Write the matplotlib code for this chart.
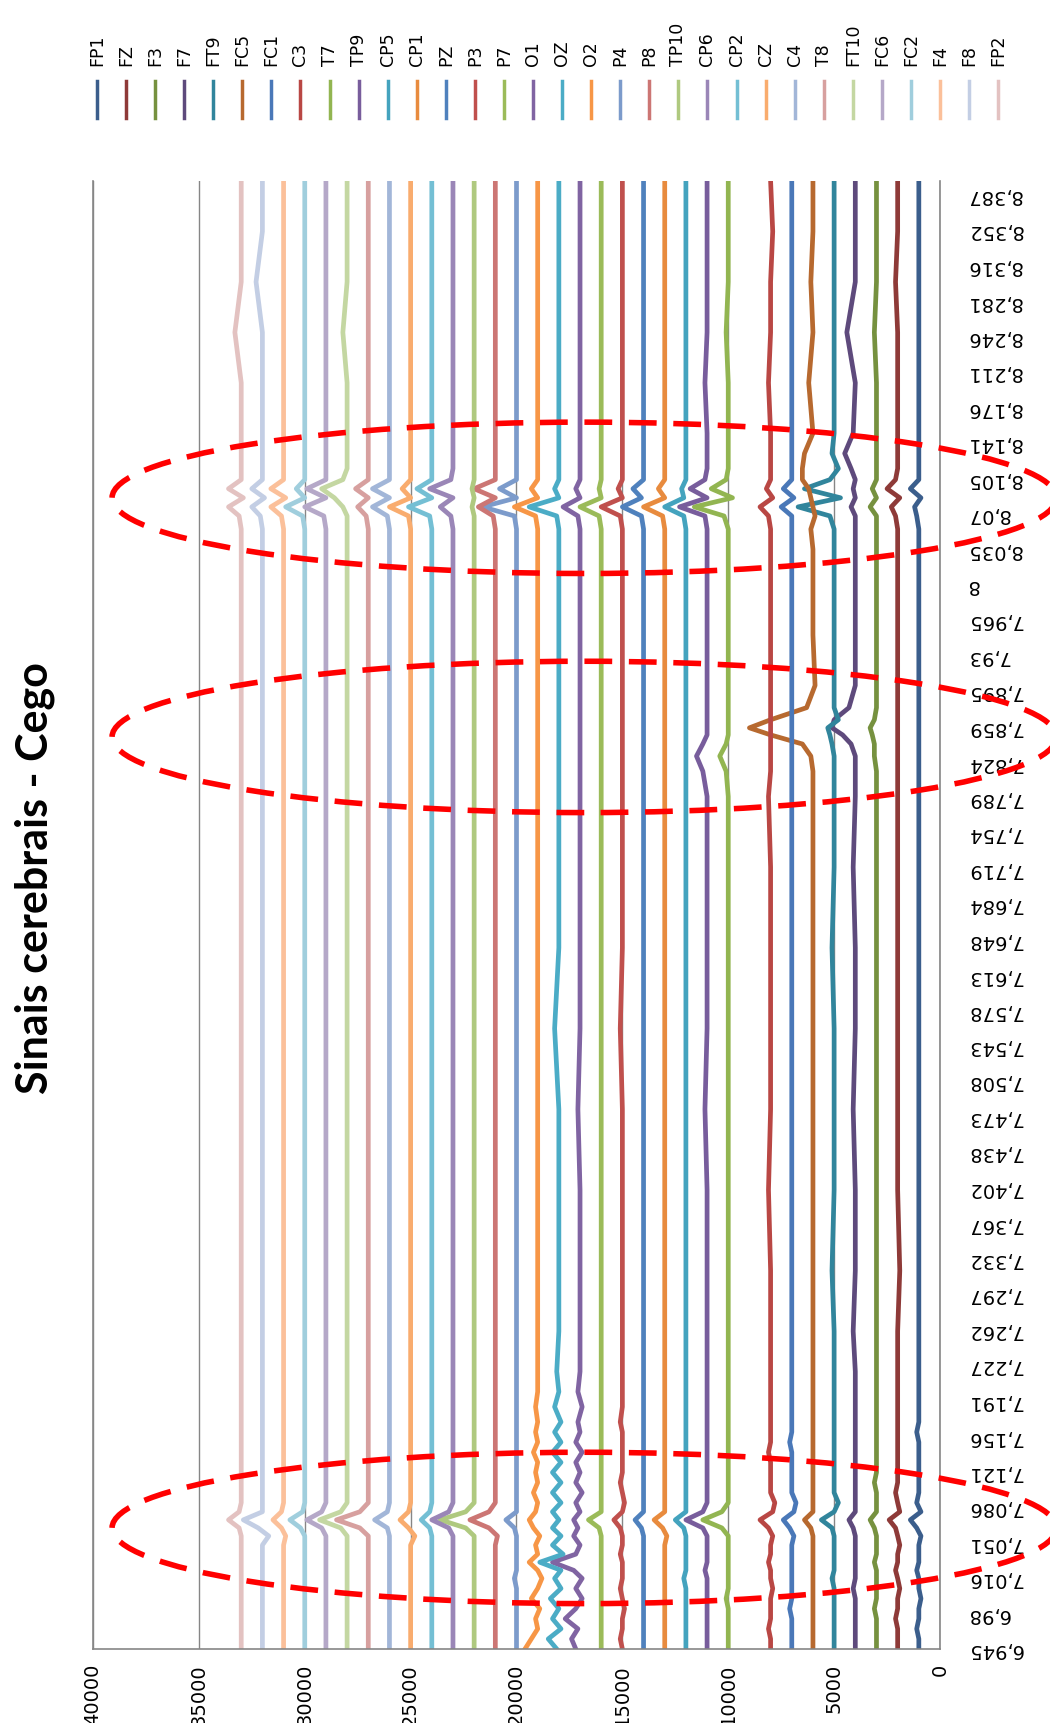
import matplotlib.pyplot as plt
from matplotlib.patches import Ellipse

# EEG channels, drawn as vertical traces (chart is rotated 90 degrees)
channels = ['FP1', 'FZ', 'F3', 'F7', 'FT9', 'FC5', 'FC1', 'C3', 'T7', 'TP9',
            'CP5', 'CP1', 'PZ', 'P3', 'P7', 'O1', 'OZ', 'O2', 'P4', 'P8',
            'TP10', 'CP6', 'CP2', 'CZ', 'C4', 'T8', 'FT10', 'FC6', 'FC2', 'F4',
            'F8', 'FP2']
offsets = [1000, 2000, 3000, 4000, 5000, 6000, 7000, 8000, 10000, 11000,
           12000, 13000, 14000, 15000, 16000, 17000, 18000, 19000, 20000, 21000,
           22000, 23000, 24000, 25000, 26000, 27000, 28000, 29000, 30000, 31000,
           32000, 33000]
colors = ['#3B5E8C', '#8E3A38', '#76913F', '#5E4A7C', '#31859C', '#B7692F',
          '#4A78B8', '#B94744', '#92B551', '#785D9C', '#44A3BE', '#E88B3E',
          '#4F81BD', '#C0504D', '#9BBB59', '#8064A2', '#4BACC6', '#F79646',
          '#7C9BCB', '#CC7674', '#AFC97F', '#9A86B7', '#74BFD4', '#F9AC6E',
          '#A2B6D8', '#D7A09F', '#C4D7A2', '#B5A8C8', '#A0CEDD', '#FBC09A',
          '#C3CEE4', '#E3C2C1']

# time (s) of the points
times = [6.945, 6.955, 6.965, 6.975, 6.985, 6.995, 7.005, 7.015, 7.023, 7.031,
         7.039, 7.048, 7.057, 7.065, 7.073, 7.081, 7.090, 7.100, 7.110, 7.120,
         7.130, 7.140, 7.150, 7.160, 7.170, 7.185, 7.200, 7.220, 7.260, 7.320,
         7.400, 7.480, 7.560, 7.640, 7.720, 7.790, 7.815, 7.830, 7.842, 7.851,
         7.858, 7.866, 7.878, 7.900, 7.950, 8.000, 8.035, 8.055, 8.068, 8.077,
         8.086, 8.095, 8.104, 8.115, 8.130, 8.150, 8.200, 8.250, 8.300, 8.350,
         8.400]

# deviation from each channel's offset, in hundreds
fp1 = [0, 0, 1, 0, 0, -1, 0, 0, 1, 0, 0, 0, -1, 1, 4, -1, 1, 0, 0, 0,
       0, 0, 0, 1, 0, 0, 0, 0, 0, 0, 0, 0, 0, 0, 0, 0, 0, 0, 0, 0,
       0, 0, 0, 0, 0, 0, 0, 0, 1, 2, -1, 4, 0, 0, 0, 0, 0, 0, 0, 0, 0]
fz = [0, 0, 0, 1, 0, 0, -1, 0, 1, 0, 0, -1, 0, 1, 4, -1, 0, 1, 0, 0,
      0, 0, 0, 0, 0, 0, 0, 0, 0, -1, 0, 0, 0, 0, 0, 0, 0, 0, 0, 0,
      0, 0, 0, 0, 0, 0, 0, 0, 1, 3, -1, 5, 1, 0, 0, 0, 0, 0, 1, 0, 0]
f3 = [0, 0, 0, 0, 1, 0, 0, 0, 0, 1, 0, 0, 0, 1, 3, 0, 0, 0, 1, 0,
      0, 0, 0, 0, 0, 0, 0, 0, 0, 0, 0, 0, 0, 0, 0, 0, 0, 1, 1, 2,
      3, 1, 0, 0, 0, 0, 0, 0, 0, 3, 0, 2, 0, 0, 0, 0, 0, 1, 0, 0, 0]
f7 = [0, 0, 0, 0, 0, 0, 1, 0, 0, 0, 0, 0, 0, 1, 3, 0, 0, 0, 0, 0,
      0, 0, 0, 0, 0, 0, 0, 0, 1, 0, 0, 1, 0, 0, 1, 0, 0, 0, 2, 6,
      11, 10, 3, 0, 0, 0, 0, 0, 0, 2, 0, 1, 0, 2, 5, 1, 0, 4, 0, 0, 0]
ft9 = [0, 0, 0, 0, 0, 0, 0, 1, 0, 0, 0, 0, 0, 1, 6, 0, -2, 0, 0, 0,
       0, 0, 0, 0, 0, 0, 0, 0, 0, 1, 0, 0, 0, 1, 0, 0, 0, 0, 1, 2,
       3, -2, 0, 0, 0, 0, 0, 0, 2, 17, -3, 14, 2, -2, 1, 0, 0, 0, 0, 0, 0]
fc5 = [0, 0, 0, 0, 0, 0, 0, 0, 0, 0, 0, 0, 0, 1, 4, 0, 0, 0, 0, 0,
       0, 0, 0, 0, 0, 0, 0, 0, 0, 0, 0, 0, 0, 0, 0, 0, 0, 1, 5, 20,
       30, 20, 3, -1, 0, 0, 0, 1, -1, 0, 1, 2, 5, 5, 4, 0, 2, 0, 1, 0, 0]
fc1 = [0, 0, 0, 0, 1, 0, 0, 0, 0, 0, 0, 0, -1, 1, 4, -1, -2, 0, 0, 0,
       0, 0, 1, 0, 0, 0, 0, 0, 0, 0, 0, 0, 0, 0, 0, 0, 0, 0, 0, 0,
       0, 0, 0, 0, 0, 0, 0, 0, 0, 5, -1, 4, 0, 0, 0, 0, 0, 0, 0, 0, 0]
c3 = [0, 0, 1, 0, 0, 0, -1, 0, 0, 1, 0, 0, -1, 1, 5, -1, -2, 0, 0, 0,
      0, 1, 0, 0, 0, 0, 0, 0, 0, 0, 1, 0, 0, 0, 0, 1, 0, 0, 0, 0,
      0, 0, 0, 0, 0, 0, 0, 0, 1, 5, -1, 2, 0, 0, 0, 0, 1, 0, 0, -1, 0]
t7 = [0, 0, 0, 0, 0, 1, 0, 0, 0, 0, 0, 0, 0, 3, 12, 3, 0, 0, 0, 0,
      0, 0, 0, 0, 0, 0, 0, 0, 0, 0, 0, 0, 0, 0, 0, 0, 1, 4, 1, 0,
      0, 0, 0, 0, 0, 0, 0, 0, 2, 16, -2, 8, 1, 0, 0, 0, 0, 1, 0, 0, 0]
tp9 = [0, 0, 0, 0, 0, 0, 0, 0, 1, 0, 0, 0, 0, 2, 10, 2, 0, 0, 0, 0,
       0, 0, 0, 0, 0, 0, 0, 0, 0, 0, 0, 1, 0, 0, 0, 0, 2, 5, 2, 0,
       0, 0, 0, 0, 0, 0, 0, 0, 1, 13, 0, 8, 1, 0, 0, 0, 1, 0, 0, 0, 0]
cp5 = [0, 0, 0, 0, 0, 0, 0, 1, 0, 0, 0, 0, 0, 1, 5, 0, 0, 0, 0, 0,
       0, 0, 0, 0, 0, 0, 0, 0, 0, 0, 0, 0, 0, 0, 0, 0, 0, 0, 0, 0,
       0, 0, 0, 0, 0, 0, 0, 0, 1, 10, 1, 2, 0, 0, 0, 0, 0, 0, 0, 0, 0]
cp1 = [0, 0, 0, 0, 0, 0, 0, 0, 0, 0, 0, 0, -1, 1, 5, 0, 0, 0, 0, 0,
       0, 0, 0, 0, 0, 0, 0, 0, 0, 0, 0, 0, 0, 0, 0, 0, 0, 0, 0, 0,
       0, 0, 0, 0, 0, 0, 0, 0, 1, 10, 0, 3, 0, 0, 0, 0, 0, 0, 0, 0, 0]
pz = [0, 0, 0, 0, 0, 0, 0, 0, 0, 0, 0, 0, 0, 1, 4, 0, 0, 0, 0, 0,
      0, 0, 0, 0, 0, 0, 0, 0, 0, 0, 0, 0, 0, 0, 0, 0, 0, 0, 0, 0,
      0, 0, 0, 0, 0, 0, 0, 0, 1, 10, 1, 5, 0, 0, 0, 0, 0, 0, 0, 0, 0]
p3 = [0, 1, 0, 0, -1, 0, 1, 0, 0, 0, 1, 0, 0, 1, 4, 0, -1, 0, 1, 0,
      0, 0, 0, 0, 1, 0, 0, 0, 0, 0, 0, 0, 1, 0, 0, 0, 0, 0, 0, 0,
      0, 0, 0, 0, 0, 0, 0, 0, 1, 10, 0, 2, 0, 0, 0, 0, 0, 0, 0, 0, 0]
p7 = [0, 0, 0, 0, 0, 0, 0, 0, 0, 0, 0, 0, 0, 1, 6, 0, 0, 0, 0, 0,
      0, 0, 0, 0, 0, 0, 0, 0, 0, 0, 0, 0, 0, 0, 0, 0, 0, 0, 0, 0,
      0, 0, 0, 0, 0, 0, 0, 0, 1, 10, 0, 1, 0, 0, 0, 0, 0, 0, 0, 0, 0]
o1 = [2, 4, 1, 7, 2, -1, 2, -1, 3, 13, 2, 0, 3, 1, 3, 0, 2, -1, 2, 0,
      2, -1, 2, 0, 1, -1, 1, 0, 0, 0, 0, 1, 0, 0, 0, 0, 0, 0, 0, 0,
      0, 0, 0, 0, 0, 0, 0, 0, 1, 8, 0, 2, 0, 0, 0, 0, 0, 0, 0, 0, 0]
oz = [1, 5, -1, 3, 0, 4, -1, 2, -1, 9, -2, 3, -1, 3, 0, 3, -1, 3, -1, 3,
      -1, 3, -1, 2, -1, 2, 0, 1, 0, 0, 0, 0, 2, 0, 0, 0, 0, 0, 0, 0,
      0, 0, 0, 0, 0, 0, 0, 0, 1, 14, 0, 2, 0, 0, 0, 0, 0, 0, 0, 0, 0]
o2 = [6, 3, 0, 1, -1, 3, 0, -2, 0, 4, 0, 1, -1, 2, 4, 1, 0, 2, 0, 1,
      0, 2, 0, 1, 0, 1, 0, 0, 0, 0, 0, 0, 0, 0, 0, 0, 0, 0, 0, 0,
      0, 0, 0, 0, 0, 0, 0, 0, 1, 11, 0, 3, 0, 0, 0, 0, 0, 0, 0, 0, 0]
p4 = [0, 0, 0, 0, 0, 0, 0, 1, 0, 0, 0, 0, 0, 1, 5, 0, 0, 0, 0, 0,
      0, 0, 0, 0, 0, 0, 0, 0, 0, 0, 0, 0, 0, 0, 0, 0, 0, 0, 0, 0,
      0, 0, 0, 0, 0, 0, 0, 0, 1, 16, 0, 8, 0, 0, 0, 0, 0, 0, 0, 0, 0]
p8 = [0, 0, 0, 0, 0, 0, 0, 0, 0, 0, 0, 0, -1, 3, 12, 3, 0, 0, 0, 0,
      0, 0, 0, 0, 0, 0, 0, 0, 0, 0, 0, 0, 0, 0, 0, 0, 0, 0, 0, 0,
      0, 0, 0, 0, 0, 0, 0, 0, 1, 8, 0, 10, 0, 0, 0, 0, 0, 0, 0, 0, 0]
tp10 = [0, 0, 0, 0, 0, 0, 0, 0, 0, 0, 0, 0, 0, 4, 16, 4, 0, 0, 0, 0,
        0, 0, 0, 0, 0, 0, 0, 0, 0, 0, 0, 0, 0, 0, 0, 0, 0, 0, 0, 0,
        0, 0, 0, 0, 0, 0, 0, 0, 0, 1, 0, 1, 0, 0, 0, 0, 0, 0, 0, 0, 0]
cp6 = [0, 0, 0, 0, 0, 0, 0, 0, 0, 0, 0, 0, 0, 2, 10, 2, 0, 0, 0, 0,
       0, 0, 0, 0, 0, 0, 0, 0, 0, 0, 0, 0, 0, 0, 0, 0, 0, 0, 0, 0,
       0, 0, 0, 0, 0, 0, 0, 0, 1, 6, 0, 11, 1, 0, 0, 0, 0, 0, 0, 0, 0]
cp2 = [0, 0, 0, 0, 0, 0, 0, 0, 0, 0, 0, 0, 0, 1, 5, 1, 0, 0, 0, 0,
       0, 0, 0, 0, 0, 0, 0, 0, 0, 0, 0, 0, 0, 0, 0, 0, 0, 0, 0, 0,
       0, 0, 0, 0, 0, 0, 0, 0, 1, 11, 0, 7, 0, 0, 0, 0, 0, 0, 0, 0, 0]
cz = [0, 0, 0, 0, 0, 0, 0, 0, 0, 0, 0, 0, -2, 1, 5, 1, 0, 0, 0, 0,
      0, 0, 0, 0, 0, 0, 0, 0, 0, 0, 0, 0, 0, 0, 0, 0, 0, 0, 0, 0,
      0, 0, 0, 0, 0, 0, 0, 0, 1, 10, 0, 4, 0, 0, 0, 0, 0, 0, 0, 0, 0]
c4 = [0, 0, 0, 0, 0, 0, 0, 0, 0, 0, 0, 0, 0, 1, 7, 1, 0, 0, 0, 0,
      0, 0, 0, 0, 0, 0, 0, 0, 0, 0, 0, 0, 0, 0, 0, 0, 0, 0, 0, 0,
      0, 0, 0, 0, 0, 0, 0, 0, 1, 8, 0, 8, 0, 0, 0, 0, 0, 0, 0, 0, 0]
t8 = [0, 0, 0, 0, 0, 0, 0, 0, 0, 0, 0, 0, 0, 4, 15, 4, 0, 0, 0, 0,
      0, 0, 0, 0, 0, 0, 0, 0, 0, 0, 0, 0, 0, 0, 0, 0, 0, 0, 0, 0,
      0, 0, 0, 0, 0, 0, 0, 0, 1, 5, 0, 6, 0, 0, 0, 0, 0, 0, 0, 0, 0]
ft10 = [0, 0, 0, 0, 0, 0, 0, 0, 0, 0, 0, 0, 0, 3, 13, 3, 0, 0, 0, 0,
        0, 0, 0, 0, 0, 0, 0, 0, 0, 0, 0, 0, 0, 0, 0, 0, 0, 0, 0, 0,
        0, 0, 0, 0, 0, 0, 0, 0, 0, 2, 6, 12, 2, 0, 0, 0, 0, 2, 0, 0, 0]
fc6 = [0, 0, 0, 0, 0, 0, 0, 0, 0, 0, 0, 0, 0, 2, 9, 2, 0, 0, 0, 0,
       0, 0, 0, 0, 0, 0, 0, 0, 0, 0, 0, 0, 0, 0, 0, 0, 0, 0, 0, 0,
       0, 0, 0, 0, 0, 0, 0, 0, 1, 10, 0, 9, 0, 0, 0, 0, 0, 0, 0, 0, 0]
fc2 = [0, 0, 0, 0, 0, 0, 0, 0, 0, 0, 0, 0, 0, 2, 7, 1, 0, 0, 0, 0,
       0, 0, 0, 0, 0, 0, 0, 0, 0, 0, 0, 0, 0, 0, 0, 0, 0, 0, 0, 0,
       0, 0, 0, 0, 0, 0, 0, 0, 1, 9, 0, 4, 0, 0, 0, 0, 0, 0, 0, 0, 0]
f4 = [0, 0, 0, 0, 0, 0, 0, 0, 0, 0, 0, 0, -1, 1, 5, 1, 0, 0, 0, 0,
      0, 0, 0, 0, 0, 0, 0, 0, 0, 0, 0, 0, 0, 0, 0, 0, 0, 0, 0, 0,
      0, 0, 0, 0, 0, 0, 0, 0, 1, 6, -1, 6, 0, 0, 0, 0, 0, 0, 0, 0, 0]
f8 = [0, 0, 0, 0, 0, 0, 0, 0, 0, 0, 0, 0, -3, 2, 9, 0, 0, 0, 0, 0,
      0, 0, 0, 0, 0, 0, 0, 0, 0, 0, 0, 0, 0, 0, 0, 0, 0, 0, 0, 0,
      0, 0, 0, 0, 0, 0, 0, 0, 1, 5, -1, 5, 0, 0, 0, 0, 0, 0, 3, 0, 0]
fp2 = [0, 0, 0, 0, 0, 0, 0, 0, 0, 0, 0, 0, 0, 1, 6, 1, 0, 0, 0, 0,
       0, 0, 0, 0, 0, 0, 0, 0, 0, 0, 0, 0, 0, 0, 0, 0, 0, 0, 0, 0,
       0, 0, 0, 0, 0, 0, 0, 0, 1, 6, -1, 6, 0, 0, 0, 0, 0, 3, 0, 0, 0]

deviations = [fp1, fz, f3, f7, ft9, fc5, fc1, c3, t7, tp9, cp5, cp1, pz, p3,
              p7, o1, oz, o2, p4, p8, tp10, cp6, cp2, cz, c4, t8, ft10, fc6,
              fc2, f4, f8, fp2]

tick_times = [6.945, 6.98, 7.016, 7.051, 7.086, 7.121, 7.156, 7.191, 7.227,
              7.262, 7.297, 7.332, 7.367, 7.402, 7.438, 7.473, 7.508, 7.543,
              7.578, 7.613, 7.648, 7.684, 7.719, 7.754, 7.789, 7.824, 7.859,
              7.895, 7.93, 7.965, 8.0, 8.035, 8.07, 8.105, 8.141, 8.176,
              8.211, 8.246, 8.281, 8.316, 8.352, 8.387]
value_ticks = [0, 5000, 10000, 15000, 20000, 25000, 30000, 35000, 40000]

# red dashed highlights (centre time of each marked event)
highlight_times = [7.065, 7.849, 8.086]

W, H = 1050, 1724
plt.rcParams['font.family'] = 'DejaVu Sans'
fig = plt.figure(figsize=(W / 100, H / 100), dpi=100)
ax = fig.add_axes([93 / W, 1 - 1650 / H, (940 - 93) / W, (1650 - 182) / H])

for devs, base, col in zip(deviations, offsets, colors):
    vals = [base + 100 * d for d in devs]
    ax.plot(vals, times, color=col, lw=3.4, solid_joinstyle='round')

ax.set_xlim(40000, 0)
ax.set_ylim(6.945, 8.400)
ax.set_xticks(value_ticks)
ax.set_xticklabels([str(v) for v in value_ticks], rotation=90, fontsize=14)
ax.set_yticks(tick_times)
ax.set_yticklabels(['{:g}'.format(t).replace('.', ',') for t in tick_times],
                   rotation=180, fontsize=14, va='center')
ax.yaxis.tick_right()
ax.tick_params(axis='x', length=0, pad=10)
ax.tick_params(axis='y', length=0, pad=19)
ax.grid(axis='x', color='#868686', lw=1)
ax.set_axisbelow(True)
for side in ['left', 'right', 'bottom']:
    ax.spines[side].set_color('#868686')
    ax.spines[side].set_linewidth(1.2)
ax.spines['top'].set_visible(False)

for t in highlight_times:
    ax.add_patch(Ellipse((16800, t), width=44600, height=0.15, fill=False,
                         edgecolor='#FF0000', lw=4, linestyle=(0, (5, 3)),
                         clip_on=False, zorder=5))

# title (rotated with the chart)
fig.text(35 / W, 1 - 878 / H, 'Sinais cerebrais - Cego', rotation=90,
         ha='center', va='center', fontsize=31, fontweight='bold',
         family=['Lato', 'DejaVu Sans'])

# legend, laid out across the top
for i, (name, col) in enumerate(zip(channels, colors)):
    x = (97 + i * 29.07) / W
    fig.add_artist(plt.Line2D([x, x], [1 - 82 / H, 1 - 119 / H], color=col,
                              lw=2.5, transform=fig.transFigure))
    fig.text(x, 1 - 66 / H, name, rotation=90, ha='center', va='bottom',
             fontsize=12.5)

fig.savefig('out.png', dpi=100)
